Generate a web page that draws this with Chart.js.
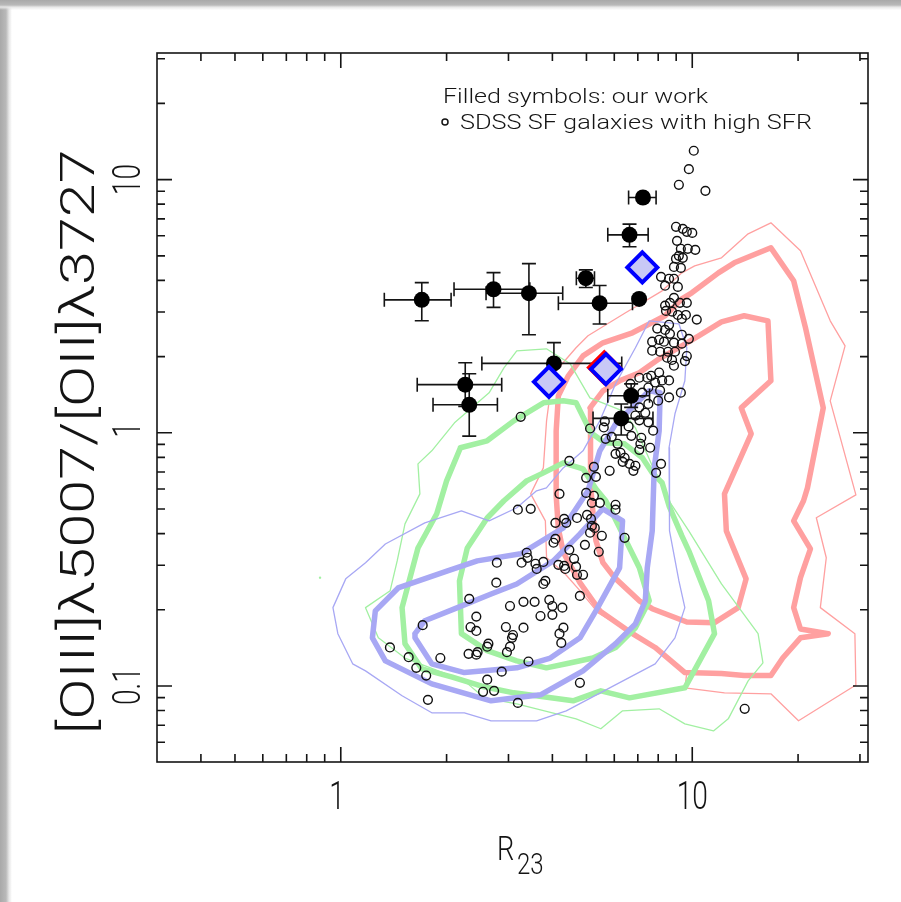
<!DOCTYPE html>
<html>
<head>
<meta charset="utf-8">
<script src="https://cdn.jsdelivr.net/npm/chart.js@4.4.1/dist/chart.umd.min.js"></script>
<style>
  html, body { margin: 0; padding: 0; background: #fff; }
  #page { position: relative; width: 901px; height: 902px; overflow: hidden; background: #fff; }
  #page canvas { position: absolute; left: 0; top: 0; }
  .edgeL { position: absolute; left: 0; top: 0; width: 12px; height: 902px;
           background: linear-gradient(to right, #a9a9a9 0, #b9b9b9 6px, #e6e6e6 9px, rgba(255,255,255,0) 12px); }
  .edgeT { position: absolute; left: 0; top: 0; width: 901px; height: 10px;
           background: linear-gradient(to bottom, #a9a9a9 0, #b9b9b9 5px, #e6e6e6 7px, rgba(255,255,255,0) 10px); }
</style>
</head>
<body>
<div id="page">
  <canvas id="chart" width="901" height="902"></canvas>
  <div class="edgeL"></div>
  <div class="edgeT"></div>
</div>
<script>
// ---------------- axes ----------------
const xRange = [0.316228, 31.6228];          // R23 axis, 10^-0.5 .. 10^1.5
const yRange = [0.0501187, 31.6228];         // O32 axis, 10^-1.3 .. 10^1.5
const xTickValues = [0.4,0.5,0.6,0.7,0.8,0.9,1,2,3,4,5,6,7,8,9,10,20,30];
const xMajorValues = [1, 10];
const xTickLabels = ['1', '10'];
const yTickValues = [0.06,0.07,0.08,0.09,0.1,0.2,0.3,0.4,0.5,0.6,0.7,0.8,0.9,1,2,3,4,5,6,7,8,9,10,20,30];
const yMajorValues = [0.1, 1, 10];
const yTickLabels = ['0.1', '1', '10'];
const xTitle = ['R', '23'];
const yTitle = '[OIII]\u03bb5007/[OII]\u03bb3727';
const legendLines = ['Filled symbols: our work', 'SDSS SF galaxies with high SFR'];

// ---------------- SDSS star-forming galaxies (open circles) ----------------
const sdssR23 = [10.1,9.78,9.16,10.9,
  8.99,9.40,9.65,10.0,9.05,9.28,9.71,10.2,9.16,8.99,9.40,8.87,9.28,
  8.15,8.59,8.87,8.37,9.10,8.87,8.37,8.64,9.22,9.65,8.42,8.76,9.10,9.59,10.3,9.34,8.59,7.95,8.37,9.34,8.64,9.78,7.69,8.05,8.31,8.87,9.34,7.69,8.10,8.53,8.93,8.48,8.76,9.65,9.53,8.87,8.05,7.64,8.21,8.59,7.84,7.45,7.07,8.10,8.59,9.28,7.50,7.21,6.67,7.50,8.00,7.07,7.35,6.89,7.07,7.50,7.74,
  5.64,5.60,5.12,6.59,6.71,7.16,5.90,5.67,6.13,7.12,7.59,7.07,6.05,6.25,6.42,6.34,6.63,6.89,6.80,4.47,5.25,5.82,8.15,7.89,4.99,5.32,3.25,
  4.19,4.99,5.25,5.18,5.46,6.05,6.05,3.19,3.47,4.32,4.08,4.38,4.70,5.02,5.15,5.18,5.28,5.12,5.53,6.42,4.08,4.03,4.95,4.47,5.42,4.61,3.38,3.27,3.40,3.58,3.77,3.61,4.16,4.32,4.35,4.67,4.70,4.89,2.78,2.77,3.82,3.77,4.79,2.32,3.03,3.31,3.56,3.92,4.00,4.27,4.00,3.70,2.43,2.34,2.43,2.95,3.31,4.30,4.19,3.09,3.07,4.24,1.71,2.63,2.61,3.03,2.97,2.31,2.45,2.43,3.42,1.38,1.56,1.92,1.64,1.75,2.87,2.61,2.54,2.73,4.79,1.77,3.19,14.1];
const sdssO32 = [13.0,11.0,9.54,9.03,
  6.51,6.39,6.22,6.16,5.73,5.33,5.33,5.28,5.00,4.87,4.91,4.52,4.48,
  4.13,4.06,4.06,3.81,3.77,3.41,3.18,3.26,3.26,3.26,3.03,3.01,2.92,2.92,2.80,2.82,2.67,2.58,2.55,2.44,2.46,2.35,2.29,2.33,2.29,2.27,2.25,2.11,2.09,2.09,2.09,1.98,1.94,2.01,1.92,1.84,1.73,1.68,1.61,1.61,1.58,1.65,1.65,1.47,1.38,1.44,1.51,1.44,1.56,1.30,1.34,1.26,1.20,1.17,1.12,1.10,1.02,
  1.11,1.05,1.04,1.06,0.973,0.956,0.964,0.947,0.905,0.905,0.873,0.857,0.826,0.834,0.797,0.768,0.754,0.741,0.708,0.775,0.734,0.708,0.754,0.695,0.664,0.670,1.157,
  0.574,0.579,0.564,0.529,0.529,0.520,0.497,0.497,0.501,0.457,0.441,0.441,0.461,0.474,0.457,0.429,0.421,0.403,0.392,0.385,0.381,0.368,0.361,0.345,0.339,0.318,0.336,0.307,0.321,0.304,0.309,0.290,0.301,0.298,0.290,0.296,0.275,0.275,0.307,0.256,0.260,0.253,0.227,0.221,0.207,0.215,0.215,0.219,0.207,0.204,0.191,0.189,0.188,0.171,0.165,0.171,0.170,0.170,0.161,0.159,0.155,0.148,0.174,0.147,0.143,0.143,0.136,0.134,0.136,0.133,0.125,0.142,0.130,0.129,0.118,0.110,0.114,0.106,0.0949,0.0957,0.103,0.0882,0.0858,0.0813];

// ---------------- our objects (filled circles with error bars) ----------------
const ourR23   = [1.70, 2.72, 3.43, 4.98, 5.45, 7.06, 6.63, 7.24, 4.04, 2.26, 2.32, 6.70, 6.28];
const ourO32   = [3.35, 3.69, 3.56, 4.08, 3.25, 3.38, 6.05, 8.50, 1.88, 1.55, 1.29, 1.40, 1.14];
const ourR23Lo = [1.33, 2.10, 2.59, 4.68, 4.16, null, 5.75, 6.59, 2.52, 1.65, 1.83, 5.75, 5.22];
const ourR23Hi = [2.06, 3.45, 4.28, 5.27, 6.76, null, 7.49, 7.89, 6.30, 2.87, 2.79, 7.56, 7.73];
const ourO32Lo = [2.77, 3.13, 2.44, 3.75, 2.69, null, 5.43, null, 1.55, 1.27, 0.97, 1.26, 0.98];
const ourO32Hi = [3.92, 4.29, 4.66, 4.40, 3.82, null, 6.67, null, 2.27, 1.89, 1.71, 1.56, 1.30];

// stacked / composite spectra (diamonds)
const stackR23 = [7.21, 3.91, 5.68];
const stackO32 = [4.50, 1.59, 1.785];
const stackRedR23 = [5.62];
const stackRedO32 = [1.81];

// ---------------- density contours [R23, O32] ----------------
const redThin = [[3.47,0.574],[3.77,0.727],[3.85,1.115],[3.95,1.465],[4.10,1.758],[4.67,2.167],[5.05,2.416],[6.46,2.978],[8.21,3.637],[9.34,4.284],[10.16,4.566],[12.11,4.911],[14.42,6.108],[16.74,6.750],[20.32,5.234],[24.69,2.769],[27.21,2.206],[24.69,1.338],[29.21,0.569],[22.54,0.462],[24.06,0.321],[23.14,0.204],[29.02,0.161],[29.21,0.101],[20.06,0.0729],[16.74,0.0932],[12.35,0.0940],[9.53,0.0984],[9.65,0.113],[8.05,0.140],[6.76,0.161],[5.39,0.195],[4.79,0.238],[4.35,0.277],[3.85,0.321],[3.82,0.449],[3.47,0.574]];
const redThick = [[4.16,1.400],[4.44,1.679],[4.89,2.014],[5.57,2.267],[6.76,2.483],[8.37,2.899],[9.34,3.382],[9.97,3.572],[11.87,4.284],[13.17,4.692],[16.74,5.378],[19.43,3.985],[21.00,2.598],[23.59,1.255],[21.27,0.606],[20.73,0.539],[19.43,0.449],[21.69,0.348],[20.32,0.268],[19.43,0.204],[20.32,0.168],[24.37,0.161],[20.32,0.155],[18.09,0.129],[16.74,0.110],[14.05,0.110],[12.11,0.112],[9.53,0.113],[7.84,0.142],[6.76,0.161],[5.46,0.198],[4.79,0.256],[4.30,0.336],[4.16,0.418],[4.10,0.564],[4.10,1.018],[4.16,1.400]];
const redCore = [[5.12,1.255],[5.57,1.465],[6.21,1.605],[7.07,1.726],[8.05,1.960],[9.34,2.206],[10.43,2.416],[12.11,2.744],[14.05,2.899],[16.42,2.769],[16.74,1.605],[13.78,1.255],[14.71,0.991],[12.35,0.574],[12.50,0.410],[14.23,0.265],[13.51,0.204],[11.57,0.178],[9.65,0.179],[7.69,0.202],[7.07,0.217],[6.01,0.268],[5.57,0.307],[5.32,0.375],[5.22,0.479],[5.12,0.658],[5.15,0.913],[5.12,1.255]];
const greenThin = [[1.176,0.204],[1.382,0.238],[1.447,0.312],[1.523,0.437],[1.679,0.574],[1.658,0.754],[1.815,0.849],[2.106,1.095],[2.642,1.439],[2.912,1.806],[3.167,2.108],[3.846,2.147],[4.494,1.873],[5.116,1.375],[6.335,1.222],[6.891,1.046],[7.693,0.741],[8.588,0.539],[9.776,0.410],[12.11,0.253],[15.39,0.161],[15.89,0.1235],[14.42,0.1048],[12.66,0.0742],[11.49,0.0665],[9.526,0.0709],[8.050,0.0813],[6.335,0.0798],[5.494,0.0678],[4.672,0.0742],[3.167,0.0851],[2.558,0.0898],[2.247,0.1048],[1.523,0.129],[1.279,0.155],[1.176,0.204]];
const greenThick = [[2.190,0.873],[2.609,0.930],[3.106,1.115],[3.773,1.314],[4.295,1.338],[4.672,1.314],[5.149,1.000],[5.637,0.913],[6.417,0.905],[7.210,0.797],[7.693,0.695],[8.207,0.635],[8.588,0.515],[9.343,0.392],[9.776,0.342],[11.13,0.217],[11.57,0.161],[9.526,0.0984],[6.628,0.0898],[5.494,0.0957],[4.581,0.0874],[3.106,0.0940],[2.558,0.0993],[2.065,0.1087],[1.701,0.1169],[1.523,0.147],[1.494,0.204],[1.658,0.351],[1.875,0.479],[2.000,0.646],[2.190,0.873]];
const greenCore = [[3.379,0.646],[2.912,0.539],[2.609,0.461],[2.291,0.351],[2.176,0.260],[2.204,0.161],[2.609,0.138],[3.167,0.1257],[3.846,0.118],[4.380,0.1224],[5.216,0.129],[6.053,0.142],[6.891,0.170],[7.544,0.217],[7.071,0.293],[6.335,0.399],[5.936,0.479],[5.674,0.539],[5.318,0.601],[4.889,0.721],[4.295,0.761],[3.773,0.695],[3.379,0.646]];
const greenSpeck = [[0.873,0.268]];
const blueThin = [[7.544,2.769],[9.163,2.695],[9.650,2.167],[9.526,1.605],[8.929,1.189],[8.588,0.873],[8.643,0.646],[8.588,0.410],[9.163,0.260],[9.526,0.204],[8.929,0.155],[7.843,0.1224],[5.823,0.0984],[4.380,0.0798],[3.606,0.0729],[2.677,0.0729],[2.247,0.0784],[1.815,0.0784],[1.494,0.0915],[1.176,0.1148],[1.081,0.1224],[0.981,0.161],[0.950,0.204],[1.033,0.265],[1.176,0.307],[1.339,0.364],[1.734,0.441],[2.204,0.492],[2.642,0.449],[3.167,0.506],[3.606,0.590],[3.846,0.606],[4.295,0.727],[4.889,0.849],[5.458,1.115],[6.053,1.562],[6.891,2.167],[7.544,2.769]];
const blueThick = [[7.544,1.465],[8.102,1.439],[8.050,1.018],[7.794,0.727],[7.693,0.410],[7.447,0.293],[7.352,0.217],[6.891,0.176],[6.053,0.147],[4.889,0.1148],[3.700,0.0923],[2.677,0.0874],[1.815,0.1020],[1.339,0.1257],[1.230,0.155],[1.254,0.198],[1.456,0.244],[2.013,0.285],[2.445,0.312],[3.251,0.333],[4.295,0.421],[5.050,0.590],[5.458,0.849],[6.053,1.085],[7.544,1.465]];
const blueCore = [[1.626,0.161],[1.734,0.181],[2.148,0.204],[2.677,0.231],[3.167,0.253],[4.025,0.312],[4.794,0.399],[5.565,0.501],[6.335,0.449],[6.212,0.293],[5.318,0.198],[4.794,0.155],[3.947,0.129],[3.167,0.118],[2.558,0.1148],[2.247,0.113],[1.815,0.1224],[1.626,0.155],[1.626,0.161]];

// ---------------- styling ----------------
const RED = '#ffa0a0', GREEN = '#a2f0a2', BLUE = '#a8a8f4';
const INK = '#141414';
const FONT = 'Roboto, "DejaVu Sans", sans-serif';
const THIN = 1.3, THICK = 5.5;

const pts = (xs, ys) => xs.map((v, i) => ({ x: v, y: ys[i] }));
const pairs = arr => arr.map(p => ({ x: p[0], y: p[1] }));
function contour(arr, color, width, order) {
  return { data: pairs(arr), showLine: true, borderColor: color, borderWidth: width,
           pointRadius: 0, pointHoverRadius: 0, fill: false, tension: 0,
           borderJoinStyle: 'round', borderCapStyle: 'round', order };
}

// draw a text string, optionally squeezed/stretched to a target length
function drawText(ctx, text, px, py, size, opt) {
  opt = opt || {};
  ctx.save();
  ctx.translate(px, py);
  if (opt.rot) ctx.rotate(opt.rot);
  ctx.font = `${opt.weight || 300} ${size}px ${FONT}`;
  let sx = opt.sx || 1;
  if (opt.fit) sx = opt.fit / ctx.measureText(text).width;
  ctx.scale(sx, 1);
  ctx.textAlign = opt.align || 'center';
  ctx.textBaseline = 'alphabetic';
  ctx.fillStyle = INK;
  ctx.fillText(text, opt.dx || 0, 0);
  ctx.restore();
}

// error bars behind the filled circles
const errorBars = {
  id: 'errorBars',
  beforeDatasetDraw(chart, args) {
    if (chart.data.datasets[args.index].label !== 'ours') return;
    const { ctx, scales: { x, y } } = chart;
    const cap = 7;
    ctx.save();
    ctx.strokeStyle = INK; ctx.lineWidth = 1.6;
    ctx.beginPath();
    ourR23.forEach((v, i) => {
      const cx = x.getPixelForValue(v), cy = y.getPixelForValue(ourO32[i]);
      if (ourR23Lo[i] !== null) {
        const l = x.getPixelForValue(ourR23Lo[i]), r = x.getPixelForValue(ourR23Hi[i]);
        ctx.moveTo(l, cy); ctx.lineTo(r, cy);
        ctx.moveTo(l, cy - cap); ctx.lineTo(l, cy + cap);
        ctx.moveTo(r, cy - cap); ctx.lineTo(r, cy + cap);
      }
      if (ourO32Lo[i] !== null) {
        const b = y.getPixelForValue(ourO32Lo[i]), t = y.getPixelForValue(ourO32Hi[i]);
        ctx.moveTo(cx, b); ctx.lineTo(cx, t);
        ctx.moveTo(cx - cap, b); ctx.lineTo(cx + cap, b);
        ctx.moveTo(cx - cap, t); ctx.lineTo(cx + cap, t);
      }
    });
    ctx.stroke();
    ctx.restore();
  }
};

// box, inward ticks on all four sides, labels, titles and key
const frameAndText = {
  id: 'frameAndText',
  afterDraw(chart) {
    const { ctx, chartArea: a, scales: { x, y } } = chart;
    ctx.save();
    ctx.strokeStyle = INK; ctx.lineWidth = 1.6;
    ctx.strokeRect(a.left, a.top, a.right - a.left, a.bottom - a.top);
    ctx.beginPath();
    xTickValues.forEach(v => {
      const p = x.getPixelForValue(v);
      const len = xMajorValues.includes(v) ? 15 : 8;
      ctx.moveTo(p, a.bottom); ctx.lineTo(p, a.bottom - len);
      ctx.moveTo(p, a.top); ctx.lineTo(p, a.top + len);
    });
    yTickValues.forEach(v => {
      const p = y.getPixelForValue(v);
      const len = yMajorValues.includes(v) ? 15 : 8;
      ctx.moveTo(a.left, p); ctx.lineTo(a.left + len, p);
      ctx.moveTo(a.right, p); ctx.lineTo(a.right - len, p);
    });
    ctx.stroke();

    // tick labels
    xMajorValues.forEach((v, i) => drawText(ctx, xTickLabels[i], x.getPixelForValue(v), 809, 38,
      { sx: 0.74, dx: xTickLabels[i] === '1' ? -5 : 0 }));
    yMajorValues.forEach((v, i) => drawText(ctx, yTickLabels[i], 140, y.getPixelForValue(v), 38,
      { sx: 0.74, rot: -Math.PI / 2, dx: yTickLabels[i] === '1' ? 4 : 0 }));

    // axis titles
    drawText(ctx, yTitle, 94, 442, 48, { rot: -Math.PI / 2, fit: 585 });
    drawText(ctx, xTitle[0], 497, 860, 34, { align: 'left', sx: 0.8 });
    drawText(ctx, xTitle[1], 517, 874, 30, { align: 'left', sx: 0.8 });

    // key
    drawText(ctx, legendLines[0], 443, 103, 21, { align: 'left', fit: 265 });
    drawText(ctx, legendLines[1], 460, 129, 21, { align: 'left', fit: 352 });
    ctx.beginPath();
    ctx.lineWidth = 1.5;
    ctx.arc(445, 122, 3, 0, Math.PI * 2);
    ctx.stroke();
    ctx.restore();
  }
};

new Chart(document.getElementById('chart'), {
  type: 'scatter',
  data: {
    datasets: [
      contour(redThin, RED, THIN, 30),
      contour(redThick, RED, THICK, 29),
      contour(redCore, RED, THICK, 28),
      contour(greenThin, GREEN, THIN, 27),
      contour(greenThick, GREEN, THICK, 26),
      contour(greenCore, GREEN, THICK, 25),
      { data: pairs(greenSpeck), pointRadius: 1.2, pointBackgroundColor: GREEN, pointBorderWidth: 0, order: 25 },
      contour(blueThin, BLUE, THIN, 24),
      contour(blueThick, BLUE, THICK, 23),
      contour(blueCore, BLUE, THICK, 22),
      { label: 'sdss', data: pts(sdssR23, sdssO32), pointStyle: 'circle', pointRadius: 4.4,
        pointBackgroundColor: 'rgba(0,0,0,0)', pointBorderColor: '#111', pointBorderWidth: 1.4, order: 10 },
      { label: 'ours', data: pts(ourR23, ourO32), pointStyle: 'circle', pointRadius: 8,
        pointBackgroundColor: '#000', pointBorderColor: '#000', pointBorderWidth: 0, order: 5 },
      { label: 'stackRed', data: pts(stackRedR23, stackRedO32), pointStyle: 'rectRot', pointRadius: 16,
        pointBackgroundColor: '#ff0000', pointBorderColor: '#ff0000', pointBorderWidth: 3, order: 3 },
      { label: 'stack', data: pts(stackR23, stackO32), pointStyle: 'rectRot', pointRadius: 15,
        pointBackgroundColor: '#c8c8f6', pointBorderColor: '#0000ff', pointBorderWidth: 4, order: 1 }
    ]
  },
  options: {
    responsive: false,
    animation: false,
    devicePixelRatio: 1,
    events: [],
    layout: { padding: { left: 0, right: 33, top: 53, bottom: 0 } },
    plugins: { legend: { display: false }, tooltip: { enabled: false } },
    scales: {
      x: { type: 'logarithmic', min: xRange[0], max: xRange[1], position: 'bottom',
           grid: { display: false }, border: { display: false }, ticks: { display: false },
           afterFit(s) { s.height = 140; } },
      y: { type: 'logarithmic', min: yRange[0], max: yRange[1], position: 'left',
           grid: { display: false }, border: { display: false }, ticks: { display: false },
           afterFit(s) { s.width = 157; } }
    }
  },
  plugins: [errorBars, frameAndText]
});
</script>
</body>
</html>
